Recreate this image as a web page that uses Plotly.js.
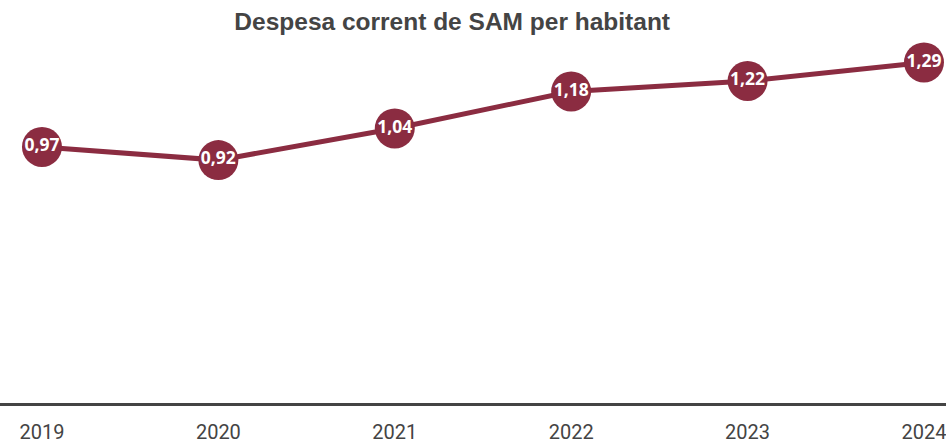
<!DOCTYPE html>
<html>
<head>
<meta charset="utf-8">
<script src="https://cdn.plot.ly/plotly-3.0.1.min.js"></script>
<style>html,body{margin:0;padding:0;background:#fff;}#chart{width:946px;height:443px;}</style>
</head>
<body>
<div id="chart"></div>
<script>
const years = [2019, 2020, 2021, 2022, 2023, 2024];
const values = [0.97, 0.92, 1.04, 1.18, 1.22, 1.29];
const labels = ["0,97", "0,92", "1,04", "1,18", "1,22", "1,29"];
const tickLabels = ["2019", "2020", "2021", "2022", "2023", "2024"];
const titleText = "Despesa corrent de SAM per habitant";

const color = "#8b2c41";

const trace = {
  x: years,
  y: values,
  type: "scatter",
  mode: "lines+markers+text",
  line: {color: color, width: 5},
  marker: {color: color, size: 40},
  text: labels,
  textposition: "middle center",
  textfont: {family: "Open Sans, Roboto, Arial, sans-serif", size: 17.5, color: "#ffffff", weight: "bold"},
  cliponaxis: false,
  hoverinfo: "skip"
};

const layout = {
  width: 946,
  height: 443,
  margin: {l: 0, r: 0, t: 45, b: 40, pad: 0},
  paper_bgcolor: "#ffffff",
  plot_bgcolor: "#ffffff",
  showlegend: false,
  title: {
    text: "<b>" + titleText + "</b>",
    x: 0.478,
    xanchor: "center",
    xref: "paper",
    y: 0.951,
    yanchor: "middle",
    font: {family: "Liberation Sans, Arial, sans-serif", size: 24.5, color: "#444444"}
  },
  xaxis: {
    range: [2018.762, 2024.125],
    tickvals: years,
    ticktext: tickLabels,
    showgrid: false,
    zeroline: false,
    showline: true,
    linecolor: "#444444",
    linewidth: 3,
    ticks: "",
    ticklabelstandoff: 9,
    ticklabeloverflow: "allow",
    tickfont: {family: "Roboto, Arial, sans-serif", size: 20, color: "#444444"},
    fixedrange: true
  },
  yaxis: {
    range: [0, 1.356],
    showgrid: false,
    zeroline: false,
    showline: false,
    showticklabels: false,
    ticks: "",
    fixedrange: true
  }
};

Plotly.newPlot("chart", [trace], layout, {displayModeBar: false, staticPlot: true});
</script>
</body>
</html>
